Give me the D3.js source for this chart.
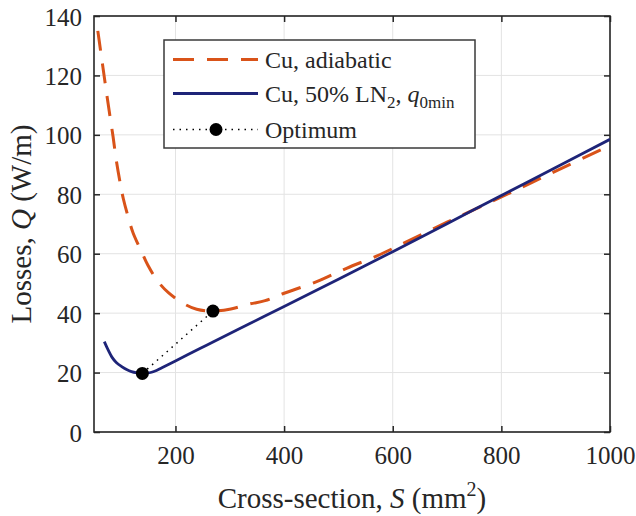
<!DOCTYPE html>
<html>
<head>
<meta charset="utf-8">
<script src="https://cdn.jsdelivr.net/npm/d3@7"></script>
<style>
  html, body { margin: 0; padding: 0; background: #fff; }
  svg { display: block; }
  text { font-family: "Liberation Serif", "Times New Roman", Times, serif; fill: #262626; }
</style>
</head>
<body>
<svg id="chart" width="636" height="516"></svg>
<script>
// ---- data ----
const adiabaticS = [57, 62, 67, 72, 78, 85, 91, 99, 104, 115, 122, 138, 149, 168, 187, 216, 239, 269, 302, 337, 365, 400, 460, 515, 570, 613, 700, 800, 900, 1000];
const adiabaticQ = [135, 128.5, 122, 115.5, 108, 99.5, 91.5, 83, 78.5, 71, 67, 60.5, 56.2, 50.6, 46.9, 43.1, 41.3, 40.7, 41.4, 43.1, 44.2, 46.7, 50.6, 55.1, 59.2, 62.9, 70.6, 79.1, 87.8, 96.4];
const ln2S = [69, 76, 83, 91, 101, 110, 119, 129, 139, 148, 156, 165, 175, 199, 245, 270, 337, 400, 500, 600, 700, 800, 900, 1000];
const ln2Q = [30.4, 27.6, 25.2, 23.4, 22.0, 21.0, 20.3, 19.9, 19.7, 19.8, 20.1, 20.7, 21.6, 23.8, 28.1, 30.4, 36.5, 42.2, 51.4, 60.7, 70.1, 79.6, 89.0, 98.5];
const optimumS = [139, 269];
const optimumQ = [19.7, 40.7];
const xTicks = [200, 400, 600, 800, 1000];
const yTicks = [0, 20, 40, 60, 80, 100, 120, 140];

// ---- layout ----
const mLeft = 94, mRight = 610, mTop = 16, mBottom = 432;
const orange = "#D95319", navy = "#1e2478", axisCol = "#262626", gridCol = "#e3e3e3";
const serif = '"Liberation Serif", "Times New Roman", Times, serif';
const svg = d3.select("#chart");
const x = d3.scaleLinear().domain([50, 1000]).range([mLeft, mRight]);
const y = d3.scaleLinear().domain([0, 140]).range([mBottom, mTop]);

// grid
svg.append("g").selectAll("line").data(xTicks).join("line")
  .attr("x1", d => x(d)).attr("x2", d => x(d)).attr("y1", mTop).attr("y2", mBottom)
  .attr("stroke", gridCol).attr("stroke-width", 1);
svg.append("g").selectAll("line").data(yTicks).join("line")
  .attr("x1", mLeft).attr("x2", mRight).attr("y1", d => y(d)).attr("y2", d => y(d))
  .attr("stroke", gridCol).attr("stroke-width", 1);

// axes (ticks inward, labels via d3 axis)
const fmt = d3.format("d");
const xAxis = svg.append("g").attr("transform", `translate(0,${mBottom})`)
  .call(d3.axisBottom(x).tickValues(xTicks).tickFormat(fmt).tickSizeInner(-6).tickSizeOuter(0).tickPadding(14));
const yAxis = svg.append("g").attr("transform", `translate(${mLeft},0)`)
  .call(d3.axisLeft(y).tickValues(yTicks).tickFormat(fmt).tickSizeInner(-6).tickSizeOuter(0).tickPadding(12));
const xTop = svg.append("g").attr("transform", `translate(0,${mTop})`)
  .call(d3.axisTop(x).tickValues(xTicks).tickSizeInner(-6).tickSizeOuter(0).tickFormat(""));
const yRight = svg.append("g").attr("transform", `translate(${mRight},0)`)
  .call(d3.axisRight(y).tickValues(yTicks).tickSizeInner(-6).tickSizeOuter(0).tickFormat(""));
[xAxis, yAxis, xTop, yRight].forEach(g => {
  g.attr("font-family", serif);
  g.select(".domain").remove();
  g.selectAll(".tick line").attr("stroke", axisCol).attr("stroke-width", 1.5);
  g.selectAll(".tick text").attr("fill", axisCol).style("font-size", "25px")
    .style("font-family", serif);
});
yAxis.selectAll(".tick text").attr("dy", "0.36em");

// box
svg.append("rect").attr("x", mLeft).attr("y", mTop).attr("width", mRight - mLeft).attr("height", mBottom - mTop)
  .attr("fill", "none").attr("stroke", axisCol).attr("stroke-width", 1.6);

// lines
const line = d3.line().x(d => x(d[0])).y(d => y(d[1])).curve(d3.curveCatmullRom.alpha(0.5));
svg.append("clipPath").attr("id", "clip").append("rect")
  .attr("x", mLeft).attr("y", mTop).attr("width", mRight - mLeft).attr("height", mBottom - mTop);
const plot = svg.append("g").attr("clip-path", "url(#clip)");

plot.append("path").datum(adiabaticS.map((s, i) => [s, adiabaticQ[i]]))
  .attr("d", line).attr("fill", "none").attr("stroke", orange).attr("stroke-width", 3)
  .attr("stroke-dasharray", "20,13");
plot.append("path").datum(ln2S.map((s, i) => [s, ln2Q[i]]))
  .attr("d", line).attr("fill", "none").attr("stroke", navy).attr("stroke-width", 2.8);
const opt = optimumS.map((s, i) => [s, optimumQ[i]]);
plot.append("path").datum(opt).attr("d", d3.line().x(d => x(d[0])).y(d => y(d[1])))
  .attr("fill", "none").attr("stroke", "#000").attr("stroke-width", 1.5).attr("stroke-dasharray", "1.5,5");
plot.selectAll("circle.opt").data(opt).join("circle").attr("class", "opt")
  .attr("cx", d => x(d[0])).attr("cy", d => y(d[1])).attr("r", 6.5).attr("fill", "#000");

// legend
const lg = svg.append("g");
lg.append("rect").attr("x", 164).attr("y", 40).attr("width", 311).attr("height", 108)
  .attr("fill", "#fff").attr("stroke", "#3a3a3a").attr("stroke-width", 1.5);
const ly = [59.5, 93.5, 129.5];
lg.append("line").attr("x1", 173).attr("x2", 258).attr("y1", ly[0]).attr("y2", ly[0])
  .attr("stroke", orange).attr("stroke-width", 3).attr("stroke-dasharray", "21,13");
lg.append("line").attr("x1", 173).attr("x2", 258).attr("y1", ly[1]).attr("y2", ly[1])
  .attr("stroke", navy).attr("stroke-width", 2.8);
lg.append("line").attr("x1", 173).attr("x2", 258).attr("y1", ly[2]).attr("y2", ly[2])
  .attr("stroke", "#000").attr("stroke-width", 1.5).attr("stroke-dasharray", "1.5,5");
lg.append("circle").attr("cx", 216).attr("cy", ly[2]).attr("r", 6.5).attr("fill", "#000");
const fs = "24px";
lg.append("text").attr("x", 265).attr("y", ly[0] + 8).style("font-size", fs).text("Cu, adiabatic");
const t2 = lg.append("text").attr("x", 265).attr("y", ly[1] + 8).style("font-size", fs);
t2.append("tspan").text("Cu, 50% LN");
t2.append("tspan").attr("dy", 6).style("font-size", "17px").text("2");
t2.append("tspan").attr("dy", -6).text(", ");
t2.append("tspan").style("font-style", "italic").text("q");
t2.append("tspan").attr("dy", 6).style("font-size", "17px").text("0min");
lg.append("text").attr("x", 265).attr("y", ly[2] + 8).style("font-size", fs).text("Optimum");

// axis labels
const xl = svg.append("text").attr("x", (mLeft + mRight) / 2).attr("y", 508)
  .attr("text-anchor", "middle").style("font-size", "29px");
xl.append("tspan").text("Cross-section, ");
xl.append("tspan").style("font-style", "italic").text("S");
xl.append("tspan").text(" (mm");
xl.append("tspan").attr("dy", -12).style("font-size", "20px").text("2");
xl.append("tspan").attr("dy", 12).text(")");

const yl = svg.append("text").attr("transform", `translate(31,${(mTop + mBottom) / 2}) rotate(-90)`)
  .attr("text-anchor", "middle").style("font-size", "29px");
yl.append("tspan").text("Losses, ");
yl.append("tspan").style("font-style", "italic").text("Q");
yl.append("tspan").text(" (W/m)");
</script>
</body>
</html>
